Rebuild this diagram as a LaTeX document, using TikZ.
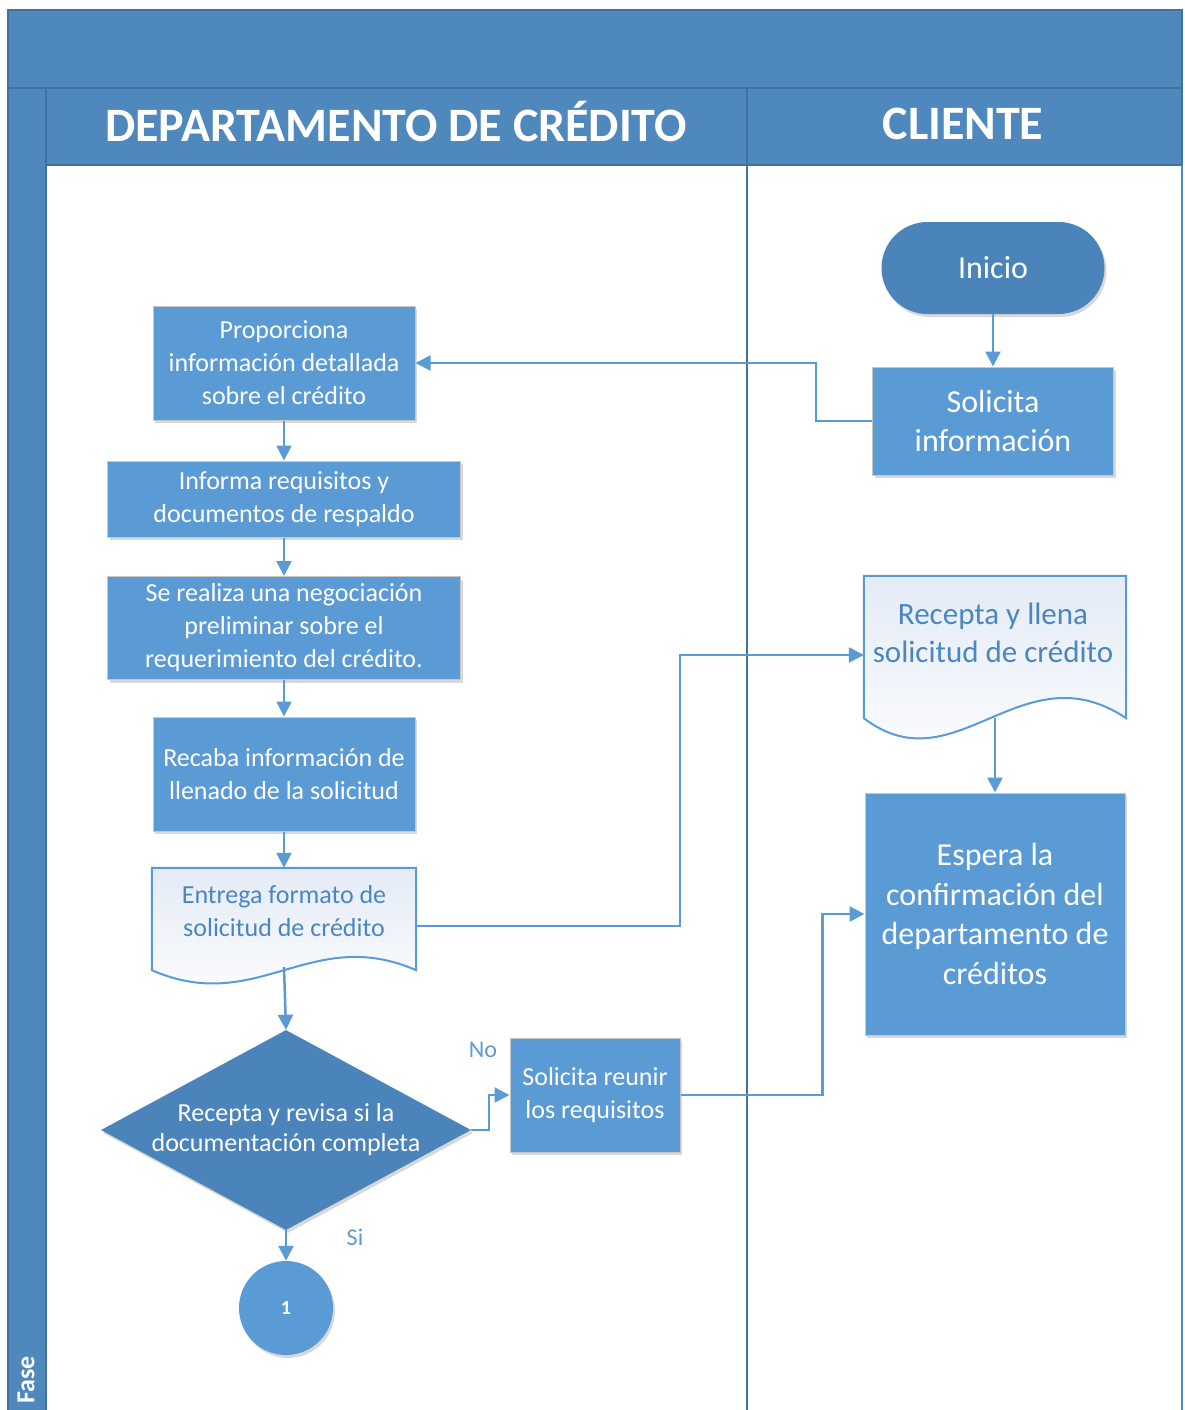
\documentclass[tikz,border=0pt]{standalone}
\usepackage{fontspec}
\setmainfont{Carlito}
\usetikzlibrary{arrows.meta, calc, shapes.geometric, shadows}
\definecolor{laneblue}{HTML}{4F88BC}
\definecolor{lanedark}{HTML}{41719C}
\definecolor{boxblue}{HTML}{5B9BD5}
\definecolor{darkblue}{HTML}{4A84BA}
\definecolor{docfill}{HTML}{E4EBF6}
\definecolor{doctext}{HTML}{4A86C2}

\begin{document}
\begin{tikzpicture}[x=1pt, y=-1pt,
		lane/.style={fill=laneblue, draw=lanedark, line width=1.5pt},
		title/.style={text=white, font=\bfseries\fontsize{48}{52}\selectfont},
		shade/.style={drop shadow={opacity=0.3, shadow xshift=2pt, shadow yshift=-3pt}},
		proc/.style={rectangle, fill=boxblue, draw=black!22, line width=1pt, shade,
			text=white, align=center, inner sep=2pt, font=\fontsize{26}{33}\selectfont},
		bigproc/.style={proc, font=\fontsize{32}{39.5}\selectfont},
		docbox/.style={rectangle, align=center, inner sep=2pt, text=doctext},
		docline/.style={draw=boxblue, line width=2pt, top color=docfill, bottom color=white},
		flow/.style={draw=boxblue, line width=2.5pt, -{Triangle[length=15pt, width=15pt]}},
		answer/.style={text=boxblue, font=\fontsize{24}{28}\selectfont}]
		\useasboundingbox (0,0) rectangle (1184,1410);
		% carriles
		\fill[white] (0,0) rectangle (1184,1410);
		\draw[lane] (8,10) rectangle (1182,88);
		\draw[lane] (8,88) rectangle (46,1420);
		\draw[lane] (46,88) rectangle (747,165);
		\draw[lane] (747,88) rectangle (1182,165);
		\draw[lanedark, line width=1.5pt] (747,165) -- (747,1420);
		\draw[laneblue, line width=1.5pt] (1182,165) -- (1182,1420);
		\node[title] (depto) at (396,122) {DEPARTAMENTO DE CRÉDITO};
		\node[title] (cliente) at (963,124) {CLIENTE};
		\node[text=white, rotate=90, font=\bfseries\fontsize{26}{30}\selectfont] (fase) at (26,1380) {Fase};
		% nodos
		\node[fill=darkblue, rounded corners=46pt, minimum width=223pt, minimum height=92pt, shade,
			text=white, font=\fontsize{32}{36}\selectfont] (inicio) at (993,268) {Inicio};
		\node[bigproc, minimum width=241pt, minimum height=108pt] (solinfo) at (993,421) {Solicita\\información};
		\node[proc, minimum width=262pt, minimum height=114pt] (proporciona) at (284,363)
			{Proporciona\\información detallada\\sobre el crédito};
		\node[proc, minimum width=353pt, minimum height=76pt] (informa) at (284,499)
			{Informa requisitos y\\documentos de respaldo};
		\node[proc, minimum width=353pt, minimum height=103pt] (negocia) at (284,628)
			{Se realiza una negociación\\preliminar sobre el\\requerimiento del crédito.};
		\node[proc, minimum width=262pt, minimum height=114pt] (recaba) at (284,774)
			{Recaba información de\\llenado de la solicitud};
		\node[docbox, minimum width=264pt, minimum height=102pt] (entrega) at (284,919) {};
		\node[docbox, minimum width=262pt, minimum height=142pt] (recepta) at (995,647) {};
		\node[bigproc, minimum width=260pt, minimum height=242pt] (espera) at (995,914)
			{Espera la\\confirmación del\\departamento de\\créditos};
		\node[diamond, fill=darkblue, shade, inner sep=-12pt, aspect=1.85, minimum width=370pt, minimum height=200pt,
			text=white, align=center, font=\fontsize{26}{30}\selectfont] (revisa) at (286,1130)
			{Recepta y revisa si la\\documentación completa};
		\node[proc, minimum width=170pt, minimum height=114pt] (reunir) at (595,1095)
			{Solicita reunir\\los requisitos};
		\node[circle, fill=boxblue, shade, minimum size=94pt, inner sep=0pt,
			text=white, font=\bfseries\fontsize{20}{24}\selectfont] (uno) at (286,1308) {1};
		% documentos
		\path[docline] (entrega.north west) -- (entrega.north east) -- (entrega.south east)
			.. controls ($(entrega.south west)!0.6!(entrega.south east)+(0,-46)$)
			and ($(entrega.south west)!0.4!(entrega.south east)+(0,46)$) .. (entrega.south west) -- cycle;
		\node[docbox, text=doctext, font=\fontsize{26}{33}\selectfont] (entregatxt) at (284,911)
			{Entrega formato de\\solicitud de crédito};
		\path[docline] (recepta.north west) -- (recepta.north east) -- (recepta.south east)
			.. controls ($(recepta.south west)!0.6!(recepta.south east)+(0,-70)$)
			and ($(recepta.south west)!0.35!(recepta.south east)+(0,70)$) .. (recepta.south west) -- cycle;
		\node[docbox, text=doctext, font=\fontsize{31}{38}\selectfont] (receptatxt) at (993,633)
			{Recepta y llena\\solicitud de crédito};
		% conectores
		\draw[flow] (inicio) -- (solinfo);
		\draw[flow] (solinfo.west) -- ++(-56,0) |- (proporciona.east);
		\draw[flow] (proporciona) -- (informa);
		\draw[flow] (informa) -- (negocia);
		\draw[flow] (negocia) -- (recaba);
		\draw[flow] (recaba) -- (entrega);
		\draw[flow] ($(entrega.east)+(0,7)$) -- ++(264,0) |- ($(recepta.west)+(0,8)$);
		\draw[flow] ($(entrega.south)+(0,-3)$) -- (revisa.north);
		\draw[flow] (recepta.south) -- (espera.north);
		\draw[flow] (revisa.east) -- ++(18,0) |- (reunir.west);
		\draw[flow] (reunir.east) -- ++(142,0) |- (espera.west);
		\draw[flow] (revisa.south) -- (uno.north);
		\node[answer] (no) at (483,1050) {No};
		\node[answer] (si) at (355,1237) {Si};
\end{tikzpicture}
\end{document}
